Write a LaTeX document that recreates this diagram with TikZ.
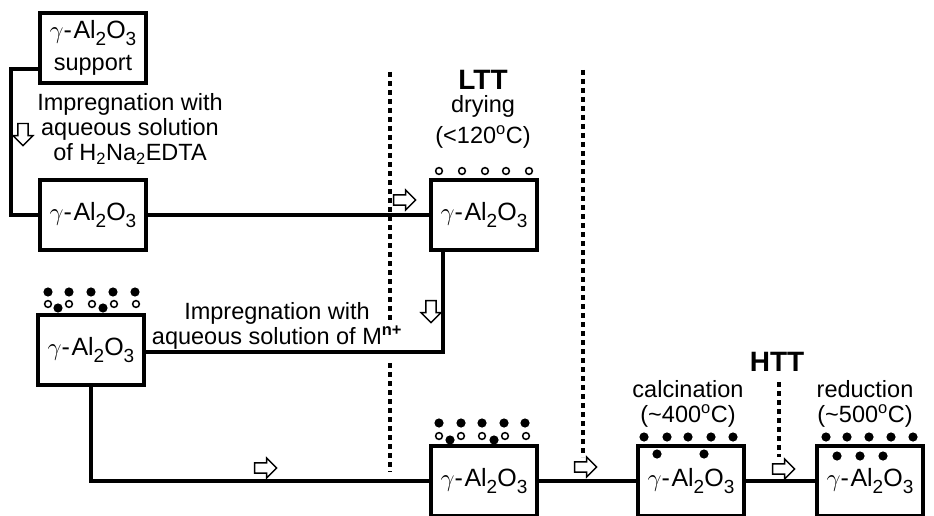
\documentclass[tikz,border=0pt]{standalone}
\usepackage{fontspec}
\setmainfont{Liberation Sans}
\usepackage{tikz}
\usetikzlibrary{shapes.arrows, positioning, calc}

\newcommand{\lowsub}[1]{\raisebox{-6.5pt}{\fontsize{19}{19}\selectfont #1}}
\newcommand{\alu}{$\gamma$-\kern1.5pt Al\lowsub{2}O\lowsub{3}}

\begin{document}
\begin{tikzpicture}[
    x=1pt, y=-1pt,
    node distance=2pt and 2pt,
    box/.style={rectangle, draw=black, fill=white, line width=4pt,
        minimum width=106pt, minimum height=70pt, align=center,
        font=\fontsize{25}{26}\selectfont, inner sep=2pt},
    lbl/.style={align=center, font=\fontsize{23.5}{25}\selectfont, inner sep=1pt},
    stage/.style={font=\fontsize{28}{29}\selectfont\bfseries, inner sep=1pt},
    conn/.style={line width=3.5pt, black},
    sep/.style={line width=3.3pt, black, dash pattern=on 5pt off 4pt},
    harr/.style={single arrow, draw=black, fill=white, line width=1.4pt,
        minimum height=22pt, inner sep=4.4pt, single arrow head extend=4.8pt},
    dnarr/.style={harr, shape border rotate=270},
    fdot/.style={fill=black},
    odot/.style={draw=black, fill=white, line width=1.5pt}
]
    \useasboundingbox (0,0) rectangle (934,516);
    \clip (0,0) rectangle (934,516);

    % boxes
    \node[box] (sup) at (93,48) {\alu\\[6pt]\fontsize{23.5}{25}\selectfont support};
    \node[box] (b2) at (93,215) {\alu};
    \node[box] (b3) at (484,215) {\alu};
    \node[box] (b4) at (91,350) {\alu};
    \node[box] (b5) at (484,481) {\alu};
    \node[box] (b6) at (691,481) {\alu};
    \node[box] (b7) at (870,481) {\alu};

    % separators
    \draw[sep] (390,72) -- (390,322);
    \draw[sep] (390,363) -- (390,472);
    \draw[sep] (583,70) -- (583,457);
    \draw[sep] (779,382) -- (779,457);

    % texts
    \node[lbl] (edta) at (130,129) {Impregnation with\\aqueous solution\\of H\textsubscript{2}Na\textsubscript{2}EDTA};
    \node[lbl] (mion) at (277,326) {Impregnation with\\aqueous solution of M\textsuperscript{\bfseries n+}};
    \node[stage] (ltt) at (483,80) {LTT};
    \node[lbl] (dry) at (483,106) {drying};
    \node[lbl] (dryt) at (483,137) {(<120\textsuperscript{o}C)};
    \node[stage] (htt) at (777,362) {HTT};
    \node[lbl] (calc) at (688,389) {calcination};
    \node[lbl] (calct) at (688,416) {(\textasciitilde400\textsuperscript{o}C)};
    \node[lbl] (red) at (865,389) {reduction};
    \node[lbl] (redt) at (865,416) {(\textasciitilde500\textsuperscript{o}C)};

    % connectors
    \draw[conn] (sup.south west) ++(0,-16) -- ++(-27,0) |- (b2.west);
    \draw[conn] (b2) -- (b3);
    \draw[conn] ($(b3.south)+(-41,0)$) |- ($(b4.east)+(0,2)$);
    \draw[conn] (b4.south) |- (b5.west);
    \draw[conn] (b5) -- (b6);
    \draw[conn] (b6) -- (b7);

    % hollow arrows
    \node[dnarr] (a1) at (23,132) {};
    \node[harr] (a2) at (402,200) {};
    \node[dnarr] (a3) at (431,309) {};
    \node[harr] (a4) at (263,468) {};
    \node[harr] (a5) at (583,467) {};
    \node[harr] (a6) at (781,469) {};

    % particles
    \foreach \x in {439,462,485,506,529}
        \draw[odot] (\x,171) circle (3.4);
    \foreach \x in {48,69,91,113,135}
        \fill[fdot] (\x,292) circle (4.6);
    \foreach \x in {48,69,92,114,136}
        \draw[odot] (\x,304) circle (3.4);
    \foreach \x in {58,103}
        \fill[fdot] (\x,308) circle (4.6);
    \foreach \x in {439,461,482,504,525}
        \fill[fdot] (\x,423) circle (4.6);
    \foreach \x in {439,461,482,505,526}
        \draw[odot] (\x,436) circle (3.4);
    \foreach \x in {450,494}
        \fill[fdot] (\x,440) circle (4.6);
    \foreach \x in {644,667,688,711,733}
        \fill[fdot] (\x,437) circle (4.6);
    \foreach \x in {657,704}
        \fill[fdot] (\x,454) circle (4.6);
    \foreach \x in {826,847,869,891,913}
        \fill[fdot] (\x,437) circle (4.6);
    \foreach \x in {837,860,883}
        \fill[fdot] (\x,456) circle (4.6);
\end{tikzpicture}
\end{document}
